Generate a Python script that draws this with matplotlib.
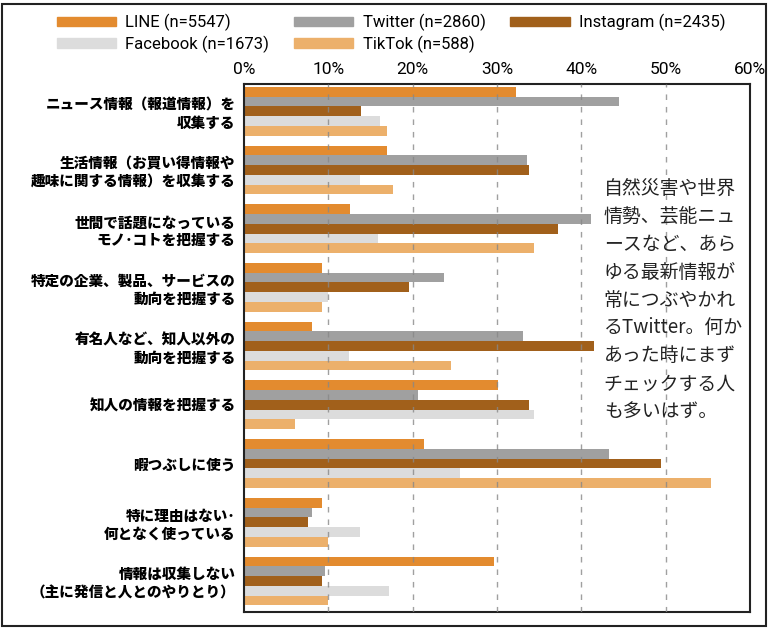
import matplotlib
matplotlib.use("Agg")
import matplotlib.pyplot as plt
from matplotlib.patches import Rectangle, Patch
import numpy as np

plt.rcParams['font.family'] = ['Noto Sans CJK JP', 'DejaVu Sans']

categories = [
    "ニュース情報（報道情報）を\n収集する",
    "生活情報（お買い得情報や\n趣味に関する情報）を収集する",
    "世間で話題になっている\nモノ･コトを把握する",
    "特定の企業、製品、サービスの\n動向を把握する",
    "有名人など、知人以外の\n動向を把握する",
    "知人の情報を把握する",
    "暇つぶしに使う",
    "特に理由はない･\n何となく使っている",
    "情報は収集しない\n（主に発信と人とのやりとり）",
]
series_names = ["LINE (n=5547)", "Twitter (n=2860)", "Instagram (n=2435)",
                "Facebook (n=1673)", "TikTok (n=588)"]
line_vals = [32.3, 16.9, 12.6, 9.3, 8.1, 30.1, 21.3, 9.3, 29.6]
twitter_vals = [44.5, 33.5, 41.1, 23.7, 33.1, 20.6, 43.3, 8.1, 9.6]
instagram_vals = [13.9, 33.8, 37.2, 19.6, 41.5, 33.8, 49.4, 7.6, 9.3]
facebook_vals = [16.1, 13.8, 15.9, 10.0, 12.4, 34.4, 25.6, 13.8, 17.2]
tiktok_vals = [16.9, 17.7, 34.4, 9.3, 24.6, 6.0, 55.4, 10.0, 10.0]
x_ticks = [0, 10, 20, 30, 40, 50, 60]
x_ticklabels = ["0%", "10%", "20%", "30%", "40%", "50%", "60%"]
note = ("自然災害や世界\n情勢、芸能ニュ\nースなど、あら\nゆる最新情報が\n常につぶやかれ\n"
        "るTwitter。何か\nあった時にまず\nチェックする人\nも多いはず。")

colors = ["#E38B2F", "#A0A0A0", "#A1601B", "#DCDCDC", "#ECB06B"]
all_vals = [line_vals, twitter_vals, instagram_vals, facebook_vals, tiktok_vals]
narrow = ['Roboto', 'DejaVu Sans']

fig = plt.figure(figsize=(7.7, 6.31), dpi=100)
ax = fig.add_axes([244/770, 1 - 612/631, (750 - 244)/770, (612 - 84)/631])

y = np.arange(len(categories))
h = 0.166
for j, (vals, c) in enumerate(zip(all_vals, colors)):
    ax.barh(y + (j - 2) * h, vals, height=h, color=c, zorder=2, linewidth=0)

ax.set_xlim(0, 60)
ax.set_ylim(8.53, -0.464)
ax.set_xticks(x_ticks)
ax.set_xticklabels(x_ticklabels, fontsize=12.5, family=narrow)
ax.xaxis.tick_top()
ax.tick_params(axis='x', length=0, pad=5)
ax.set_yticks(y)
ax.set_yticklabels(categories, fontsize=10.5, fontweight='heavy', linespacing=1.25)
ax.tick_params(axis='y', length=0, pad=6)
for v in x_ticks[1:-1]:
    ax.axvline(v, color='#888888', lw=1.0, ls=(0, (4, 5)), zorder=3, alpha=0.8)
for s in ax.spines.values():
    s.set_linewidth(1.5)
    s.set_color('#222222')

ax.text(0.711, 0.822, note, transform=ax.transAxes, fontsize=13.6, va='top', ha='left',
        linespacing=1.43, color='#222222')

handles = [Patch(color=c) for c in colors]
order = [0, 3, 1, 4, 2]
leg = fig.legend([handles[i] for i in order], [series_names[i] for i in order],
                 ncol=3, loc='upper left', bbox_to_anchor=(57/770, 1 - 14/631),
                 frameon=False, handlelength=3.55, handleheight=0.5,
                 columnspacing=1.5, handletextpad=0.55, labelspacing=0.25,
                 borderpad=0, borderaxespad=0,
                 prop={'family': narrow, 'size': 12})

fig.patches.append(Rectangle((2/770, 1 - 626/631), 764/770, 622/631, transform=fig.transFigure,
                             fill=False, lw=1.5, edgecolor='#222222'))

fig.savefig("out.png", dpi=100)
